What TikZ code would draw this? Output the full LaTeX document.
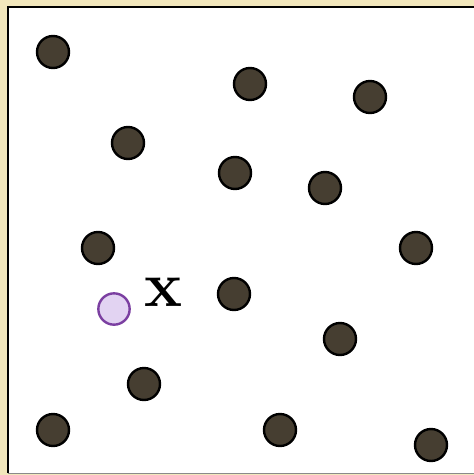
\documentclass[tikz,border=0pt]{standalone}
\usepackage{fontspec}
\definecolor{Frame}{HTML}{F2E7BC}
\definecolor{DotFill}{HTML}{463E31}
\definecolor{QueryFill}{HTML}{E2D3F2}
\definecolor{QueryRim}{HTML}{7B3FA1}
\definecolor{Rule}{HTML}{8A8A8A}
\begin{document}
\begin{tikzpicture}[
        x=0.75pt, y=-0.75pt,
        datum/.style={circle, draw=black, line width=1.8pt, fill=DotFill,
                      minimum size=24pt, inner sep=0pt},
        query/.style={circle, draw=QueryRim, line width=1.8pt, fill=QueryFill,
                      minimum size=23.5pt, inner sep=0pt}
      ]
        \useasboundingbox (0,0) rectangle (474,475);
        % frame
        \fill[Frame] (0,0) rectangle (474,475);
        \fill[white] (8,8) rectangle (474,473);
        \draw[black, line width=1.6pt] (8,473) -- (8,7) -- (474,7);
        \draw[Rule, line width=1.2pt] (8,473.5) -- (474,473.5);
        % data points
        \foreach \px/\py [count=\i] in {53/52, 250/84, 370/97, 128/143, 235/173,
            325/188, 98/248, 416/248, 234/294, 340/339, 144/384, 53/430,
            280/430, 431/445}
          \node[datum] (p\i) at (\px,\py) {};
        % query point
        \node[query] (q) at (114,309) {};
        \node[font=\fontsize{48}{48}\selectfont\bfseries] (xlabel) at (164,292) {x};
      \end{tikzpicture}
\end{document}
